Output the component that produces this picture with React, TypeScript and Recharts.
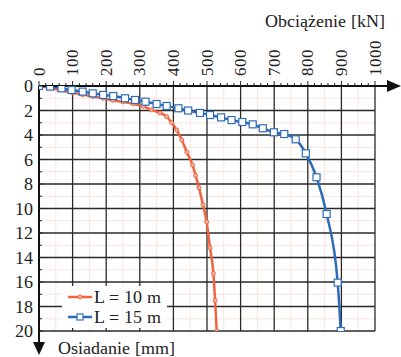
import { LineChart, Line, XAxis, YAxis, ReferenceLine } from 'recharts';

// Obciążenie [kN] vs osiadanie [mm]
const loadL10 = [0, 30, 60, 100, 130, 160, 190, 220, 250, 280, 310, 335, 360, 380, 395, 410, 425, 440, 457, 466, 476, 488, 499, 509, 519, 524, 529];
const settleL10 = [0, 0.15, 0.32, 0.55, 0.7, 0.85, 1.0, 1.17, 1.3, 1.45, 1.65, 1.95, 2.2, 2.5, 3.0, 3.6, 4.4, 5.4, 6.45, 7.3, 8.3, 9.7, 11.1, 13.2, 15.3, 17.5, 20];

const loadL15 = [0, 33, 67, 97, 130, 160, 191, 221, 256, 286, 317, 350, 380, 415, 444, 479, 509, 542, 573, 605, 636, 666, 699, 730, 764, 794, 826, 856, 889, 898];
const settleL15 = [0, 0.05, 0.19, 0.33, 0.46, 0.6, 0.73, 0.82, 1.0, 1.14, 1.28, 1.47, 1.63, 1.82, 2.0, 2.2, 2.37, 2.56, 2.78, 2.94, 3.13, 3.45, 3.78, 3.92, 4.35, 5.5, 7.45, 10.45, 16.05, 20];

const xTicks = [0, 100, 200, 300, 400, 500, 600, 700, 800, 900, 1000];
const yTicks = [0, 2, 4, 6, 8, 10, 12, 14, 16, 18, 20];
const xMinor = Array.from({ length: 51 }, (_, i) => i * 20);
const yMinor = Array.from({ length: 21 }, (_, i) => i);
const xHalf = [50, 150, 250, 350, 450, 550, 650, 750, 850, 950];
const yHalf = [1, 3, 5, 7, 9, 11, 13, 15, 17, 19];

const RED = '#f0633f';
const BLUE = '#2f6cb8';
const FONT = 'ChartSerif, Liberation Serif, serif';
const fontCss = `
@font-face { font-family: 'ChartSerif'; src: local('Liberation Serif'), local('LiberationSerif'), local('LiberationSerif-Regular'); }
.chart-root, .chart-root text, .chart-root div, .chart-root span { font-family: ChartSerif, 'Liberation Serif', serif !important; }
`;

const l10 = loadL10.map((x, i) => ({ x, y: settleL10[i] }));
const l15 = loadL15.map((x, i) => ({ x, y: settleL15[i] }));

function XTick({ x, y, payload }: any) {
  const v = payload.value;
  const major = v % 100 === 0;
  return (
    <g>
      <line x1={x} x2={x} y1={y} y2={y - (major ? 5 : 3)} stroke="#222" strokeWidth={1} />
      {major && (
        <text
          x={x}
          y={y - 10}
          transform={`rotate(-90 ${x} ${y - 10})`}
          textAnchor="start"
          dominantBaseline="central"
          fontFamily={FONT}
          fontSize={17}
          fill="#222"
        >
          {v}
        </text>
      )}
    </g>
  );
}

function YTick({ x, y, payload }: any) {
  const v = payload.value;
  const major = v % 2 === 0;
  return (
    <g>
      <line x1={x} x2={x + (major ? 4 : 3)} y1={y} y2={y} stroke="#222" strokeWidth={1} />
      {major && (
        <text x={x - 6} y={y} textAnchor="end" dominantBaseline="central" fontFamily={FONT} fontSize={18} fill="#222">
          {v}
        </text>
      )}
    </g>
  );
}

function SquareDot({ cx, cy }: any) {
  if (cx == null || cy == null) return null;
  return <rect x={cx - 3.5} y={cy - 3.5} width={7} height={7} fill="#fff" stroke={BLUE} strokeWidth={1.2} />;
}

function LegendBox() {
  const rows = [
    { name: 'L = 10 m', color: RED, square: false },
    { name: 'L = 15 m', color: BLUE, square: true },
  ];
  return (
    <div
      style={{
        position: 'absolute',
        left: 62,
        top: 286,
        background: '#fff',
        padding: '1px 6px 1px 6px',
        fontFamily: FONT,
        fontSize: 18,
        color: '#222',
        lineHeight: '20px',
      }}
    >
      {rows.map((r) => (
        <div key={r.name} style={{ display: 'flex', alignItems: 'center' }}>
          <svg width={24} height={12} style={{ marginRight: 2 }}>
            <line x1={0} x2={24} y1={6} y2={6} stroke={r.color} strokeWidth={2.5} />
            {r.square ? (
              <rect x={9} y={3} width={6} height={6} fill="#fff" stroke={r.color} strokeWidth={1.2} />
            ) : (
              <circle cx={12} cy={6} r={2} fill="#f8b7a5" stroke={r.color} strokeWidth={1} />
            )}
          </svg>
          <span>{r.name}</span>
        </div>
      ))}
    </div>
  );
}

export default function App() {
  return (
    <div className="chart-root" style={{ position: 'fixed', left: 0, top: 0, width: 401, height: 357, background: '#fff' }}>
      <style>{fontCss}</style>
      <LineChart width={401} height={357} margin={{ top: 36, right: 26, bottom: 26, left: 9 }}>
        <XAxis
          type="number"
          dataKey="x"
          orientation="top"
          domain={[0, 1000]}
          ticks={xMinor}
          interval={0}
          height={50}
          tick={<XTick />}
          tickSize={0}
          tickMargin={0}
          tickLine={false}
          axisLine={{ stroke: '#111', strokeWidth: 2 }}
          allowDataOverflow
        />
        <YAxis
          type="number"
          dataKey="y"
          reversed
          domain={[0, 20]}
          ticks={yMinor}
          interval={0}
          width={30}
          tick={<YTick />}
          tickSize={0}
          tickMargin={0}
          tickLine={false}
          axisLine={{ stroke: '#111', strokeWidth: 2 }}
          allowDataOverflow
        />
        {xHalf.map((v) => (
          <ReferenceLine key={'xh' + v} x={v} stroke="#f8e4de" strokeWidth={1} />
        ))}
        {yHalf.map((v) => (
          <ReferenceLine key={'yh' + v} y={v} stroke="#f8e4de" strokeWidth={1} />
        ))}
        {xTicks.slice(1).map((v) => (
          <ReferenceLine key={'x' + v} x={v} stroke="#2a2a2a" strokeWidth={1.3} />
        ))}
        {yTicks.slice(1).map((v) => (
          <ReferenceLine key={'y' + v} y={v} stroke="#2a2a2a" strokeWidth={1.3} />
        ))}
        <Line
          data={l10}
          dataKey="y"
          name="L = 10 m"
          type="monotone"
          stroke={RED}
          strokeWidth={2.5}
          dot={{ r: 2, fill: '#f8b7a5', stroke: RED, strokeWidth: 1 }}
          isAnimationActive={false}
        />
        <Line
          data={l15}
          dataKey="y"
          name="L = 15 m"
          type="monotone"
          stroke={BLUE}
          strokeWidth={2.5}
          dot={<SquareDot />}
          isAnimationActive={false}
        />
      </LineChart>
      <LegendBox />
      <svg width={401} height={357} style={{ position: 'absolute', left: 0, top: 0, pointerEvents: 'none' }}>
        <line x1={375} x2={390} y1={86} y2={86} stroke="#111" strokeWidth={2} />
        <polygon points="387,80 401,86 387,92" fill="#111" />
        <line x1={39} x2={39} y1={331} y2={343} stroke="#111" strokeWidth={2} />
        <polygon points="33,342 45,342 39,355" fill="#111" />
        <text x={385} y={21} textAnchor="end" dominantBaseline="central" fontFamily={FONT} fontSize={18} fill="#222">
          Obciążenie [kN]
        </text>
        <text x={58} y={348} dominantBaseline="central" fontFamily={FONT} fontSize={18} fill="#222">
          Osiadanie [mm]
        </text>
      </svg>
    </div>
  );
}
